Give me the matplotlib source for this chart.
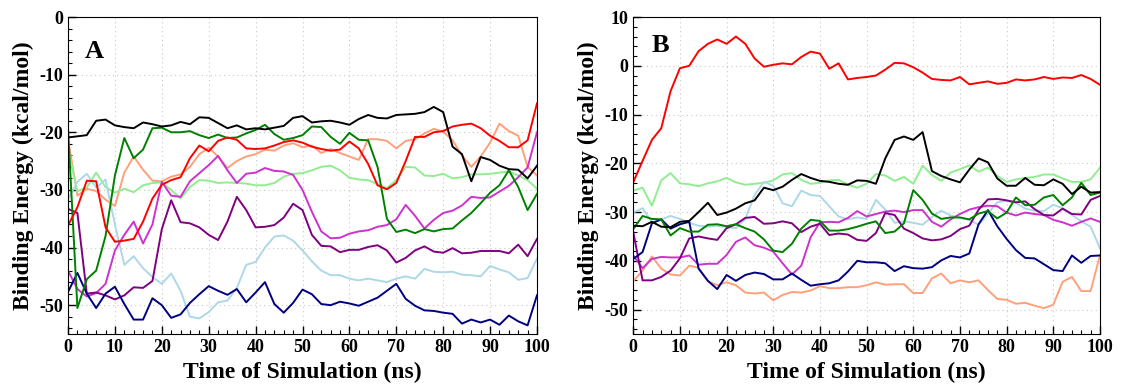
import numpy as np
import matplotlib
matplotlib.use("Agg")
import matplotlib.pyplot as plt
from matplotlib.ticker import MultipleLocator

# time axis (ns), values read every 2 ns
time_ns = list(range(0, 101, 2))

# ── panel A ──
a_black = [-20.9, -20.7, -20.5, -18.0, -17.8, -18.8, -19.1, -19.3, -18.3, -18.6, -19.0, -18.8, -18.2,
           -18.6, -17.4, -17.5, -18.4, -19.3, -18.8, -19.5, -19.3, -19.5, -19.2, -18.9, -17.5, -17.2,
           -18.3, -18.1, -18.0, -18.3, -18.7, -17.7, -17.0, -17.5, -17.6, -17.0, -16.9, -16.8, -16.5,
           -15.6, -16.5, -22.5, -23.8, -28.5, -24.3, -24.8, -25.8, -26.4, -26.5, -28.0, -25.8]
a_green = [-19.4, -50.5, -45.5, -44.0, -38.0, -27.5, -21.0, -24.5, -23.0, -19.3, -19.2, -20.0, -20.0,
           -19.8, -20.5, -21.0, -20.4, -21.0, -20.9, -20.2, -19.6, -18.7, -20.3, -21.3, -21.0, -20.5,
           -19.0, -19.1, -20.8, -22.0, -20.1, -21.3, -21.4, -26.0, -35.0, -37.3, -36.9, -37.5, -36.8,
           -37.2, -36.8, -36.7, -35.3, -34.0, -32.3, -30.5, -29.2, -26.6, -29.5, -33.5, -30.7]
a_red = [-36.2, -33.0, -28.4, -28.5, -36.5, -39.0, -38.8, -38.5, -35.5, -31.5, -29.1, -28.3, -27.8,
         -24.5, -22.3, -23.3, -21.5, -20.9, -21.3, -22.8, -22.9, -22.8, -22.3, -21.7, -21.4, -21.8,
         -22.5, -22.9, -23.2, -23.0, -21.6, -22.8, -25.5, -29.2, -29.9, -28.8, -25.0, -20.8, -20.8,
         -20.0, -19.8, -19.0, -18.7, -18.5, -19.3, -20.6, -21.5, -22.6, -22.6, -21.4, -15.0]
a_salmon = [-21.2, -31.0, -29.8, -30.2, -31.7, -32.8, -27.0, -24.2, -26.5, -28.4, -28.5, -27.7, -27.3,
            -26.0, -23.8, -22.7, -24.2, -26.2, -25.0, -24.2, -23.8, -23.0, -23.2, -22.3, -21.9, -22.6,
            -22.3, -23.6, -22.9, -23.6, -24.2, -24.8, -21.2, -21.2, -21.5, -22.8, -21.5, -21.2, -20.2,
            -19.4, -19.9, -21.4, -24.0, -26.0, -24.2, -21.8, -18.5, -19.8, -20.6, -26.0, -27.5]
a_lgreen = [-23.0, -30.2, -29.6, -27.0, -29.5, -30.5, -29.8, -30.4, -29.2, -28.8, -28.7, -30.0, -31.5,
            -29.5, -28.3, -28.4, -28.8, -28.7, -28.8, -28.9, -29.2, -29.2, -28.8, -27.7, -27.2, -27.1,
            -26.6, -26.0, -25.8, -26.6, -27.9, -28.2, -28.3, -29.0, -29.7, -28.3, -26.0, -26.1, -27.5,
            -27.6, -27.2, -28.0, -27.8, -27.3, -27.3, -27.2, -27.0, -26.8, -27.5, -28.3, -29.8]
a_lblue = [-31.6, -28.6, -27.2, -29.6, -28.2, -36.0, -43.0, -41.5, -43.6, -45.1, -46.3, -44.5, -47.5,
           -52.0, -52.3, -51.2, -49.5, -49.2, -47.0, -43.0, -42.5, -40.0, -38.1, -37.9, -38.8, -40.5,
           -42.4, -44.0, -44.8, -44.8, -45.4, -45.7, -45.4, -45.7, -46.0, -45.4, -45.0, -45.4, -43.7,
           -44.2, -44.3, -44.2, -44.7, -44.8, -45.0, -43.2, -43.8, -44.3, -45.6, -45.3, -41.9]
a_magenta = [-44.0, -47.2, -48.5, -47.9, -46.3, -40.5, -37.8, -35.5, -39.3, -36.0, -28.6, -31.0, -31.2,
             -28.5, -27.1, -25.7, -24.1, -26.6, -28.8, -27.2, -27.0, -26.2, -26.7, -26.8, -27.4, -30.0,
             -33.8, -37.2, -38.4, -38.3, -37.6, -37.2, -37.0, -36.4, -36.1, -35.1, -32.6, -34.5, -36.7,
             -35.2, -34.0, -33.6, -32.7, -31.2, -31.4, -31.3, -30.3, -29.3, -27.8, -26.1, -20.0]
a_purple = [-33.3, -34.0, -48.0, -47.8, -48.3, -49.0, -48.3, -46.9, -47.0, -45.8, -36.8, -31.8, -35.6,
            -35.8, -36.5, -37.8, -38.7, -35.5, -31.2, -33.5, -36.5, -36.4, -36.1, -34.8, -32.4, -33.5,
            -37.8, -39.7, -39.8, -40.8, -40.4, -40.4, -39.9, -39.6, -40.5, -42.6, -41.8, -40.5, -39.8,
            -40.7, -40.9, -40.1, -41.0, -40.9, -40.6, -40.6, -40.6, -41.0, -39.5, -41.5, -38.5]
a_navy = [-47.7, -44.4, -48.0, -50.5, -48.0, -46.8, -49.8, -52.5, -52.5, -48.8, -50.0, -52.2, -51.6,
          -49.6, -48.1, -46.7, -47.5, -48.2, -47.2, -49.5, -47.8, -46.0, -49.8, -51.3, -49.6, -47.3,
          -48.1, -49.8, -50.0, -49.4, -49.7, -50.1, -49.4, -48.7, -47.5, -46.3, -48.9, -50.1, -50.9,
          -51.0, -51.3, -51.5, -53.2, -52.5, -53.0, -52.5, -53.4, -51.8, -52.8, -53.5, -48.3]

# ── panel B ──
b_red = [-23.9, -19.5, -15.2, -12.8, -5.2, -0.5, 0.0, 3.0, 4.5, 5.4, 4.5, 6.0, 4.5, 1.5, -0.2, 0.2,
         0.5, 0.3, 1.8, 2.9, 2.5, -0.6, 0.5, -2.8, -2.5, -2.3, -2.0, -0.8, 0.6, 0.5, -0.3, -1.4, -2.7,
         -2.9, -3.0, -2.3, -3.8, -3.5, -3.2, -3.7, -3.5, -2.8, -3.0, -2.8, -2.3, -2.7, -2.4, -2.5,
         -1.9, -2.7, -3.9]
b_lgreen = [-25.6, -25.0, -28.7, -23.5, -22.0, -24.1, -24.3, -24.7, -24.1, -23.7, -23.0, -23.9, -24.4,
            -24.2, -24.0, -23.5, -22.3, -22.0, -23.4, -24.2, -24.0, -23.5, -23.4, -24.4, -25.0, -24.2,
            -22.2, -22.5, -23.6, -22.8, -24.2, -20.5, -22.4, -23.6, -21.9, -21.2, -20.4, -21.7, -20.9,
            -22.6, -23.8, -23.3, -23.0, -22.8, -22.3, -22.3, -23.1, -23.8, -23.8, -23.3, -20.9]
b_black = [-32.8, -32.9, -32.0, -33.0, -33.1, -32.0, -31.8, -30.0, -28.1, -30.6, -30.1, -29.3, -28.2,
           -27.6, -25.0, -25.5, -24.8, -23.4, -22.2, -23.0, -23.6, -23.8, -24.2, -24.4, -23.5, -23.6,
           -24.2, -19.0, -15.2, -14.5, -15.2, -13.6, -21.6, -22.6, -23.3, -23.9, -21.3, -19.0, -19.8,
           -23.1, -24.6, -24.6, -23.0, -24.4, -24.5, -23.3, -24.2, -26.3, -24.8, -26.0, -25.9]
b_lblue = [-30.1, -29.2, -32.1, -31.5, -30.8, -31.4, -32.2, -32.8, -33.0, -32.8, -33.1, -33.3, -31.4,
           -26.5, -23.8, -24.6, -28.2, -28.8, -25.6, -26.5, -26.7, -28.8, -30.9, -31.5, -31.1, -31.4,
           -27.5, -29.5, -32.2, -31.9, -32.2, -32.6, -31.0, -29.7, -30.7, -31.2, -31.6, -32.6, -30.3,
           -28.0, -27.7, -28.1, -29.3, -29.7, -29.8, -28.5, -29.2, -30.6, -31.9, -33.0, -37.4]
b_green = [-33.5, -30.8, -31.4, -31.5, -34.8, -33.3, -34.0, -34.0, -32.6, -32.5, -32.9, -32.5, -33.3,
           -34.0, -35.6, -37.9, -38.2, -36.5, -33.4, -31.6, -31.8, -33.8, -33.8, -33.5, -33.0, -32.4,
           -31.9, -34.3, -34.0, -32.3, -25.5, -27.5, -30.3, -31.4, -31.1, -31.1, -31.5, -30.3, -29.8,
           -31.3, -30.1, -27.0, -28.6, -28.5, -27.0, -26.5, -28.6, -27.0, -24.0, -26.5, -26.0]
b_magenta = [-38.9, -41.5, -39.6, -39.2, -39.3, -39.3, -38.9, -40.8, -40.6, -40.6, -38.8, -36.1, -35.2,
             -36.8, -37.3, -38.1, -40.5, -42.8, -41.0, -35.2, -32.1, -32.0, -32.1, -31.2, -29.8, -30.9,
             -30.4, -29.9, -29.7, -30.0, -29.6, -29.6, -32.0, -33.0, -31.5, -30.4, -29.5, -29.0, -28.7,
             -28.8, -30.1, -30.7, -30.1, -30.4, -30.6, -31.6, -32.1, -32.8, -32.0, -31.3, -32.0]
b_purple = [-34.1, -44.0, -44.0, -43.3, -42.0, -39.5, -35.4, -35.0, -35.4, -35.7, -33.3, -32.5, -31.2,
            -31.0, -32.4, -32.3, -31.9, -32.3, -34.1, -33.0, -32.4, -34.7, -34.4, -34.6, -35.7, -35.9,
            -34.3, -30.2, -30.6, -33.4, -34.3, -35.4, -35.8, -35.6, -34.9, -33.5, -32.8, -29.5, -27.4,
            -27.3, -27.6, -28.0, -27.8, -29.4, -30.6, -30.7, -29.3, -30.4, -30.5, -27.5, -26.7]
b_navy = [-39.6, -38.2, -32.3, -31.5, -33.4, -32.5, -32.0, -41.6, -44.1, -45.8, -42.9, -44.1, -42.9,
          -42.4, -42.7, -43.8, -43.8, -42.6, -43.9, -45.1, -44.8, -44.6, -44.0, -42.2, -40.0, -40.3,
          -40.3, -40.5, -42.1, -41.1, -41.5, -41.6, -41.3, -39.9, -39.0, -39.3, -38.5, -32.5, -29.6,
          -32.9, -35.5, -37.8, -39.4, -39.5, -40.7, -41.9, -42.1, -38.9, -40.4, -39.0, -38.9]
b_salmon = [-44.2, -42.0, -39.1, -41.6, -42.8, -43.0, -41.0, -41.4, -44.2, -45.0, -44.4, -45.0, -46.5,
            -46.7, -46.5, -48.1, -47.0, -46.4, -46.5, -46.1, -45.2, -45.6, -45.6, -45.4, -45.4, -45.0,
            -44.4, -44.9, -44.8, -44.8, -46.6, -46.6, -43.6, -42.6, -44.6, -44.0, -44.4, -44.0, -46.0,
            -47.8, -48.0, -48.8, -48.6, -49.2, -49.7, -49.0, -44.3, -43.3, -46.2, -46.2, -38.9]

COLORS = {"salmon": "#ffa07a", "lgreen": "#90ee90", "lblue": "#add8e6", "black": "black",
          "green": "#008000", "red": "#ff0000", "magenta": "#cc33cc", "purple": "#800080",
          "navy": "#000080"}
panel_a = [("salmon", a_salmon), ("lgreen", a_lgreen), ("lblue", a_lblue), ("magenta", a_magenta),
           ("purple", a_purple), ("navy", a_navy), ("green", a_green), ("red", a_red),
           ("black", a_black)]
panel_b = [("salmon", b_salmon), ("lgreen", b_lgreen), ("lblue", b_lblue), ("magenta", b_magenta),
           ("purple", b_purple), ("navy", b_navy), ("green", b_green), ("red", b_red),
           ("black", b_black)]

plt.rcParams["font.family"] = ["Liberation Serif", "DejaVu Serif"]
plt.rcParams["font.weight"] = "bold"
plt.rcParams["axes.unicode_minus"] = False

fig = plt.figure(figsize=(11.3, 3.91), dpi=100)
axA = fig.add_axes([0.0602, 0.1458, 0.415, 0.8107])
axB = fig.add_axes([0.5604, 0.1458, 0.413, 0.8107])

for ax, series, ylim, lab in [(axA, panel_a, (-55, 0), "A"),
                              (axB, panel_b, (-55, 10), "B")]:
    for key, vals in series:
        ax.plot(time_ns, vals, color=COLORS[key], lw=1.4)
    ax.set_xlim(0, 100)
    ax.set_ylim(*ylim)
    ax.xaxis.set_major_locator(MultipleLocator(10))
    ax.xaxis.set_minor_locator(MultipleLocator(2))
    ax.yaxis.set_major_locator(MultipleLocator(10))
    ax.yaxis.set_minor_locator(MultipleLocator(2))
    ax.tick_params(which="both", direction="in", top=False, right=False, labelsize=13)
    ax.tick_params(which="major", length=6, width=1)
    ax.tick_params(which="minor", length=3, width=0.8)
    ax.grid(True, which="major", ls=(0, (1, 3)), color="#c8c8c8", lw=0.8)
    for lbl in ax.get_xticklabels() + ax.get_yticklabels():
        lbl.set_fontweight("bold")
    ax.set_xlabel("Time of Simulation (ns)", fontsize=17, fontweight="bold", labelpad=4)
    ax.set_ylabel("Binding Energy (kcal/mol)", fontsize=17, fontweight="bold", labelpad=4)
    ax.text(0.036 if lab == "A" else 0.04, 0.89 if lab == "A" else 0.91, lab,
            transform=ax.transAxes, fontsize=19, fontweight="bold", va="center", ha="left")

fig.savefig("out.png", dpi=100)
